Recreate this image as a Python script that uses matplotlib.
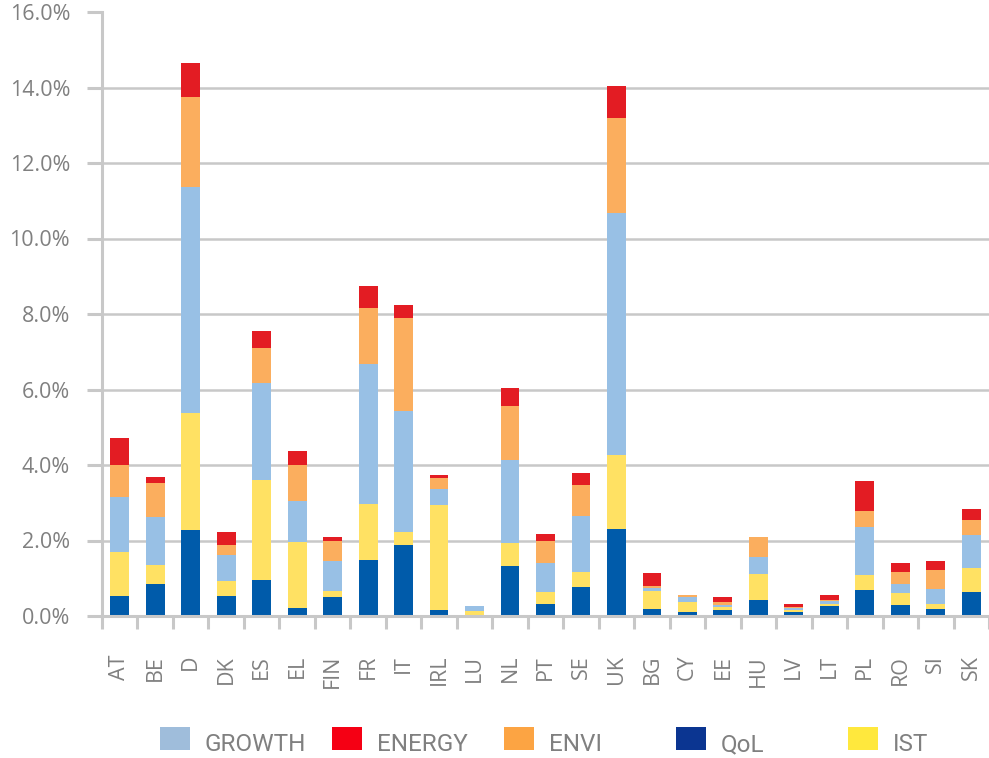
import matplotlib
matplotlib.use("Agg")
import matplotlib.pyplot as plt
from matplotlib.patches import Rectangle
from matplotlib.ticker import FuncFormatter, FixedLocator
import numpy as np

# share of each area, in percent
countries = ['AT', 'BE', 'D', 'DK', 'ES', 'EL', 'FIN', 'FR', 'IT', 'IRL', 'LU', 'NL', 'PT',
             'SE', 'UK', 'BG', 'CY', 'EE', 'HU', 'LV', 'LT', 'PL', 'RO', 'SI', 'SK']
qol = [0.53, 0.85, 2.28, 0.53, 0.95, 0.21, 0.50, 1.49, 1.88, 0.16, 0.0, 1.33, 0.32,
       0.77, 2.31, 0.18, 0.10, 0.16, 0.42, 0.10, 0.27, 0.69, 0.29, 0.19, 0.64]
ist = [1.17, 0.50, 3.11, 0.40, 2.66, 1.75, 0.16, 1.48, 0.35, 2.78, 0.13, 0.61, 0.32,
       0.40, 1.96, 0.48, 0.27, 0.08, 0.69, 0.06, 0.05, 0.40, 0.32, 0.13, 0.63]
growth = [1.44, 1.28, 5.97, 0.69, 2.55, 1.09, 0.80, 3.71, 3.19, 0.43, 0.14, 2.20, 0.77,
          1.48, 6.41, 0.08, 0.14, 0.05, 0.45, 0.06, 0.08, 1.27, 0.25, 0.40, 0.88]
envi = [0.87, 0.88, 2.38, 0.26, 0.95, 0.96, 0.53, 1.49, 2.48, 0.29, 0.0, 1.43, 0.58,
        0.82, 2.51, 0.05, 0.05, 0.08, 0.54, 0.02, 0.02, 0.43, 0.31, 0.50, 0.40]
energy = [0.71, 0.18, 0.90, 0.35, 0.45, 0.37, 0.11, 0.56, 0.35, 0.08, 0.0, 0.48, 0.19,
          0.32, 0.86, 0.34, 0.0, 0.13, 0.0, 0.08, 0.14, 0.79, 0.24, 0.24, 0.29]

# stacking order bottom -> top
stack = [('QoL', qol, '#005BAA'), ('IST', ist, '#FFE163'), ('GROWTH', growth, '#98C0E5'),
         ('ENVI', envi, '#FBAE5E'), ('ENERGY', energy, '#E31C23')]
# legend order and its own colours
legend_items = [('GROWTH', '#9FBDDB'), ('ENERGY', '#F50014'), ('ENVI', '#FCA443'),
                ('QoL', '#0B3591'), ('IST', '#FFE83D')]

gray = '#808080'
line_gray = '#C8C8C8'
plt.rcParams['font.family'] = ['Open Sans', 'DejaVu Sans']

fig = plt.figure(figsize=(9.89, 7.58), dpi=100)
ax = fig.add_axes([102 / 989, 142 / 758, 887 / 989, 604 / 758])

x = np.arange(len(countries))
bottom = np.zeros(len(countries))
for name, vals, col in stack:
    ax.bar(x, vals, width=0.53, bottom=bottom, color=col, linewidth=0, zorder=3)
    bottom += np.array(vals)

ax.set_xlim(-0.49, 24.29)
ax.set_ylim(0, 16)
ax.yaxis.set_major_locator(FixedLocator(np.arange(0, 17, 2)))
ax.yaxis.set_major_formatter(FuncFormatter(lambda v, p: f'{v:.1f}%'))
ax.yaxis.grid(True, color=line_gray, linewidth=1.8, zorder=0)
ax.yaxis.get_gridlines()[-1].set_visible(False)
ax.yaxis.get_gridlines()[0].set_visible(False)

ax.set_xticks(x)
ax.set_xticklabels(countries, rotation=90)
ax.set_xticks(np.arange(-0.5, len(countries), 1), minor=True)
ax.tick_params(axis='x', which='major', length=0, pad=28, labelsize=15.5, labelcolor=gray)
ax.tick_params(axis='x', which='minor', length=9, width=2.2, color=line_gray, direction='out')
ax.tick_params(axis='y', length=11, width=2.2, color=line_gray, pad=12,
               labelsize=15.5, labelcolor=gray)

for s in ['top', 'right']:
    ax.spines[s].set_visible(False)
for s in ['left', 'bottom']:
    ax.spines[s].set_color(line_gray)
    ax.spines[s].set_linewidth(2.2)
    ax.spines[s].set_zorder(4)

# legend along the bottom, evenly pitched
W, H = 989, 758
for i, (name, col) in enumerate(legend_items):
    px = 160 + i * 172
    fig.add_artist(Rectangle((px / W, (H - 750) / H), 30 / W, 23 / H,
                             transform=fig.transFigure, color=col, linewidth=0))
    fig.text((px + 45) / W, (H - 751) / H, name, color=gray, fontsize=17.5,
             family=['Roboto', 'DejaVu Sans'], va='baseline')

fig.savefig('out.png', dpi=100)
